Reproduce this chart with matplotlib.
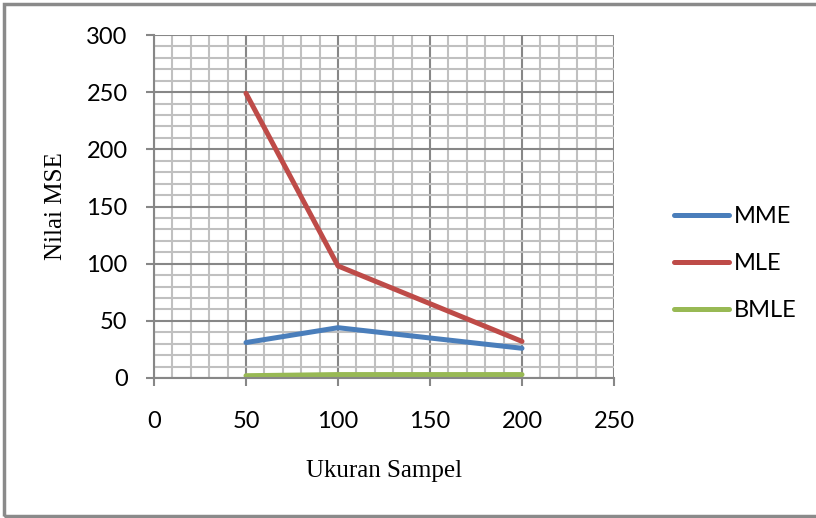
import matplotlib
matplotlib.use("Agg")
import matplotlib.pyplot as plt
from matplotlib.patches import Rectangle
from matplotlib.ticker import MultipleLocator

# data
ukuran = [50, 100, 200]
mme = [31, 44, 26]
mle = [249, 98, 32]
bmle = [2, 3, 3]

fig = plt.figure(figsize=(8.16, 5.18), dpi=100)
ax = fig.add_axes([154/816, 140/518, 460/816, 343/518])

ax.plot(ukuran, mme, color="#4a7ebb", lw=3.6, solid_capstyle="round", label="MME")
ax.plot(ukuran, mle, color="#be4b48", lw=3.6, solid_capstyle="round", label="MLE")
ax.plot(ukuran, bmle, color="#98b954", lw=3.6, solid_capstyle="round", label="BMLE")

ax.set_xlim(0, 250)
ax.set_ylim(0, 300)
ax.xaxis.set_major_locator(MultipleLocator(50))
ax.yaxis.set_major_locator(MultipleLocator(50))
ax.xaxis.set_minor_locator(MultipleLocator(10))
ax.yaxis.set_minor_locator(MultipleLocator(10))
ax.grid(which="major", color="#878787", lw=1.5)
ax.grid(which="minor", color="#c0c0c0", lw=1.5)
ax.set_axisbelow(True)
for s in ["top", "right"]:
    ax.spines[s].set_visible(False)
for s in ["left", "bottom"]:
    ax.spines[s].set_color("#878787")
    ax.spines[s].set_linewidth(1.5)
ax.tick_params(which="major", length=6, width=1.5, color="#878787", labelsize=17)
ax.tick_params(axis="y", pad=13)
ax.tick_params(axis="x", pad=18)
ax.tick_params(which="minor", length=0)
for lab in ax.get_xticklabels() + ax.get_yticklabels():
    lab.set_fontfamily("Lato")

ax.set_xlabel("Ukuran Sampel", fontfamily="Liberation Serif", fontsize=18, labelpad=20)
ax.set_ylabel("Nilai MSE", fontfamily="Liberation Serif", fontsize=18, labelpad=14)

leg = ax.legend(loc="center left", bbox_to_anchor=(1.084, 0.334), frameon=False,
                prop={"family": "Lato", "size": 17}, handlelength=2.35,
                handletextpad=0.17, labelspacing=1.1)

fig.patches.append(Rectangle((4/816, 2/518), 830/816, 512/518, transform=fig.transFigure,
                             fill=False, edgecolor="#8a8a8a", lw=2.5))

fig.savefig("out.png", dpi=100)
